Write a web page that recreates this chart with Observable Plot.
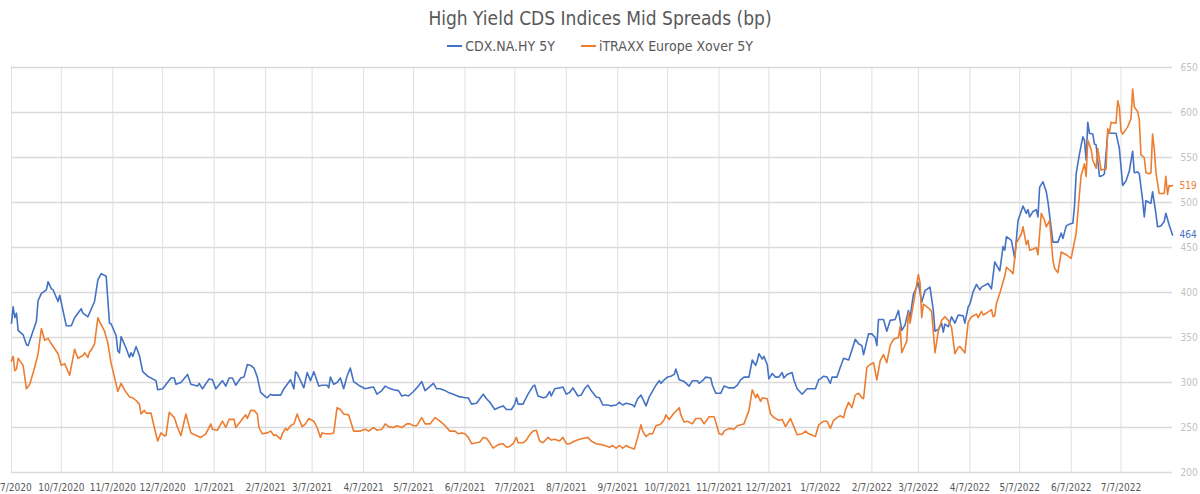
<!DOCTYPE html>
<html><head><meta charset="utf-8">
<script src="https://cdn.jsdelivr.net/npm/d3@7"></script>
<script src="https://cdn.jsdelivr.net/npm/@observablehq/plot@0.6"></script>
<style>
body{margin:0;background:#fff;font-family:"Liberation Sans Narrow","DejaVu Sans Condensed",sans-serif;}
#title{height:34px;line-height:36px;text-align:center;font-size:19px;color:#595959;}
#legend{height:24px;display:flex;justify-content:center;align-items:center;gap:26px;font-size:14px;color:#595959;}
.item{display:flex;align-items:center;gap:3px}
.sw{width:15px;height:2px;display:inline-block}
</style></head><body>
<div id="title">High Yield CDS Indices Mid Spreads (bp)</div>
<div id="legend"></div>
<div id="chart"></div>
<script>
const seriesNames = ["CDX.NA.HY 5Y", "iTRAXX Europe Xover 5Y"];
const seriesColors = ["#4472C4", "#ED7D31"];

const cdx = [
["2020-09-07",366],["2020-09-08",384],["2020-09-09",372],["2020-09-10",377],["2020-09-11",358],["2020-09-14",353],["2020-09-16",342],["2020-09-17",341],["2020-09-22",368],["2020-09-23",391],["2020-09-25",399],["2020-09-28",403],["2020-09-29",412],["2020-10-01",404],["2020-10-02",403],["2020-10-05",390],["2020-10-06",397],["2020-10-08",380],["2020-10-10",363],["2020-10-13",363],["2020-10-15",372],["2020-10-19",382],["2020-10-20",377],["2020-10-23",373],["2020-10-27",390],["2020-10-29",414],["2020-10-31",421],["2020-11-03",418],["2020-11-05",366],["2020-11-06",365],["2020-11-09",352],["2020-11-10",335],["2020-11-11",333],["2020-11-12",351],["2020-11-15",338],["2020-11-17",328],["2020-11-18",333],["2020-11-19",329],["2020-11-21",340],["2020-11-23",330],["2020-11-25",312],["2020-11-28",307],["2020-12-01",304],["2020-12-03",302],["2020-12-04",292],["2020-12-07",293],["2020-12-12",305],["2020-12-14",305],["2020-12-15",298],["2020-12-18",300],["2020-12-22",309],["2020-12-24",298],["2020-12-28",296],["2020-12-29",299],["2020-12-31",293],
["2021-01-04",304],["2021-01-06",303],["2021-01-08",293],["2021-01-12",302],["2021-01-14",296],["2021-01-16",305],["2021-01-18",305],["2021-01-20",297],["2021-01-23",305],["2021-01-25",306],["2021-01-27",320],["2021-01-29",319],["2021-01-31",316],["2021-02-02",306],["2021-02-04",289],["2021-02-07",284],["2021-02-08",283],["2021-02-10",287],["2021-02-11",286],["2021-02-16",286],["2021-02-18",293],["2021-02-20",298],["2021-02-22",303],["2021-02-24",293],["2021-02-25",312],["2021-02-26",310],["2021-02-28",302],["2021-03-02",294],["2021-03-04",311],["2021-03-06",302],["2021-03-08",312],["2021-03-09",307],["2021-03-11",296],["2021-03-13",297],["2021-03-16",297],["2021-03-17",294],["2021-03-18",306],["2021-03-20",298],["2021-03-22",300],["2021-03-24",305],["2021-03-26",293],["2021-03-28",307],["2021-03-30",316],["2021-04-01",301],["2021-04-04",297],["2021-04-08",293],["2021-04-10",294],["2021-04-13",295],["2021-04-15",287],["2021-04-18",291],["2021-04-20",296],["2021-04-22",294],["2021-04-25",292],["2021-04-28",291],["2021-04-30",285],["2021-05-02",286],["2021-05-04",285],["2021-05-07",290],["2021-05-09",294],["2021-05-12",301],["2021-05-14",291],["2021-05-16",294],["2021-05-19",299],["2021-05-21",293],["2021-05-23",293],["2021-05-26",291],["2021-05-28",289],["2021-05-31",287],["2021-06-04",284],["2021-06-05",284],["2021-06-07",283],["2021-06-09",283],["2021-06-11",276],["2021-06-14",277],["2021-06-16",282],
["2021-06-18",287],["2021-06-20",282],["2021-06-22",278],["2021-06-25",270],["2021-06-27",272],["2021-06-30",274],["2021-07-02",270],["2021-07-05",270],["2021-07-07",276],["2021-07-08",283],["2021-07-09",276],["2021-07-12",276],["2021-07-13",280],["2021-07-15",287],["2021-07-18",296],["2021-07-19",297],["2021-07-21",285],["2021-07-24",283],["2021-07-26",284],["2021-07-28",290],["2021-07-29",285],["2021-07-31",293],["2021-08-03",294],["2021-08-05",295],["2021-08-07",287],["2021-08-09",289],["2021-08-11",294],["2021-08-14",285],["2021-08-16",286],["2021-08-18",293],["2021-08-20",297],["2021-08-22",291],["2021-08-25",284],["2021-08-27",283],["2021-08-29",275],["2021-09-01",275],["2021-09-03",274],["2021-09-06",275],["2021-09-08",278],["2021-09-10",275],["2021-09-12",277],["2021-09-14",276],["2021-09-16",275],["2021-09-17",273],["2021-09-19",282],["2021-09-21",286],["2021-09-22",282],["2021-09-24",274],["2021-09-26",284],["2021-09-30",297],["2021-10-02",302],["2021-10-03",299],["2021-10-05",303],["2021-10-07",306],["2021-10-09",307],["2021-10-11",309],["2021-10-12",315],["2021-10-14",303],["2021-10-17",301],["2021-10-20",296],["2021-10-22",302],["2021-10-25",302],["2021-10-26",299],["2021-10-28",302],["2021-10-30",306],["2021-11-02",305],["2021-11-03",297],["2021-11-05",288],["2021-11-08",288],
["2021-11-10",296],["2021-11-13",294],["2021-11-16",294],["2021-11-18",297],["2021-11-20",303],["2021-11-22",306],["2021-11-25",306],["2021-11-27",325],["2021-11-29",319],["2021-11-30",324],["2021-12-01",332],["2021-12-03",326],["2021-12-04",329],["2021-12-06",320],["2021-12-07",304],["2021-12-09",310],["2021-12-11",306],["2021-12-13",306],["2021-12-15",311],["2021-12-16",305],["2021-12-18",309],["2021-12-21",311],["2021-12-22",303],["2021-12-24",293],["2021-12-27",287],["2021-12-30",293],
["2022-01-04",293],["2022-01-06",303],["2022-01-07",304],["2022-01-09",307],["2022-01-11",306],["2022-01-13",299],["2022-01-14",306],["2022-01-17",306],["2022-01-19",317],["2022-01-21",327],["2022-01-24",325],["2022-01-26",336],["2022-01-28",348],["2022-01-30",343],["2022-02-01",341],["2022-02-02",331],["2022-02-05",354],["2022-02-07",354],["2022-02-09",350],["2022-02-10",341],["2022-02-11",370],["2022-02-14",370],["2022-02-16",357],["2022-02-18",369],["2022-02-21",370],["2022-02-23",380],["2022-02-25",358],["2022-02-27",364],["2022-03-01",380],["2022-03-02",372],["2022-03-04",398],["2022-03-06",406],["2022-03-07",411],["2022-03-09",389],["2022-03-11",402],["2022-03-14",406],["2022-03-16",380],["2022-03-17",357],["2022-03-19",359],["2022-03-21",366],["2022-03-22",356],["2022-03-23",365],["2022-03-25",362],["2022-03-27",373],["2022-03-29",366],["2022-03-31",375],
["2022-04-03",374],["2022-04-04",366],["2022-04-06",384],["2022-04-07",387],["2022-04-09",401],["2022-04-11",409],["2022-04-13",403],["2022-04-14",406],["2022-04-18",410],["2022-04-20",404],["2022-04-22",434],["2022-04-25",424],["2022-04-27",451],["2022-04-28",447],["2022-04-29",462],["2022-05-02",458],["2022-05-04",438],["2022-05-06",480],["2022-05-09",496],["2022-05-11",488],["2022-05-12",492],["2022-05-13",484],["2022-05-15",490],["2022-05-17",492],["2022-05-18",484],["2022-05-19",517],["2022-05-21",523],["2022-05-23",512],["2022-05-24",501],["2022-05-27",456],["2022-05-30",456],["2022-06-01",466],["2022-06-02",460],["2022-06-04",474],["2022-06-06",476],["2022-06-08",477],["2022-06-09",496],["2022-06-10",532],["2022-06-12",554],["2022-06-14",573],["2022-06-15",569],["2022-06-16",547],["2022-06-17",589],["2022-06-18",577],["2022-06-20",576],["2022-06-21",565],["2022-06-22",564],["2022-06-24",529],["2022-06-26",530],["2022-06-27",532],["2022-06-29",577],["2022-07-03",577],["2022-07-04",577],["2022-07-06",560],["2022-07-08",519],["2022-07-10",524],["2022-07-12",535],["2022-07-14",557],["2022-07-15",533],["2022-07-17",534],["2022-07-18",532],["2022-07-20",503],["2022-07-21",484],["2022-07-22",502],["2022-07-24",500],["2022-07-25",499],["2022-07-26",512],["2022-07-28",488],["2022-07-29",473],["2022-07-31",474],["2022-08-02",479],["2022-08-03",488],["2022-08-05",475],["2022-08-07",464]
];

const xover = [
["2020-09-07",324],["2020-09-08",329],["2020-09-09",313],["2020-09-10",315],["2020-09-11",327],["2020-09-14",319],["2020-09-16",293],["2020-09-18",298],["2020-09-21",317],["2020-09-23",332],["2020-09-25",360],["2020-09-27",347],["2020-09-29",349],["2020-10-01",343],["2020-10-05",332],["2020-10-07",319],["2020-10-09",321],["2020-10-12",308],["2020-10-15",337],["2020-10-17",327],["2020-10-20",330],["2020-10-21",333],["2020-10-23",328],["2020-10-24",334],["2020-10-25",336],["2020-10-27",343],["2020-10-29",372],["2020-10-30",368],["2020-11-02",357],["2020-11-04",344],["2020-11-06",321],["2020-11-08",306],["2020-11-10",290],["2020-11-12",299],["2020-11-14",292],["2020-11-17",284],["2020-11-19",283],["2020-11-21",280],["2020-11-23",276],["2020-11-24",265],["2020-11-26",269],["2020-11-27",266],["2020-11-30",266],["2020-12-02",250],["2020-12-04",235],["2020-12-06",244],["2020-12-08",241],["2020-12-09",241],["2020-12-11",267],["2020-12-14",261],["2020-12-16",250],["2020-12-18",241],["2020-12-21",265],["2020-12-24",244],["2020-12-30",239],
["2021-01-02",243],["2021-01-05",254],["2021-01-06",248],["2021-01-09",247],["2021-01-12",257],["2021-01-14",250],["2021-01-16",259],["2021-01-19",259],["2021-01-20",250],["2021-01-23",257],["2021-01-25",262],["2021-01-26",264],["2021-01-27",260],["2021-01-29",269],["2021-01-31",269],["2021-02-02",265],["2021-02-03",250],["2021-02-05",243],["2021-02-08",244],["2021-02-10",246],["2021-02-12",241],["2021-02-13",242],["2021-02-16",237],["2021-02-17",243],["2021-02-19",249],["2021-02-20",247],["2021-02-22",252],["2021-02-24",254],["2021-02-26",265],["2021-02-27",260],["2021-03-01",251],["2021-03-03",254],["2021-03-05",260],["2021-03-08",257],["2021-03-10",250],["2021-03-12",239],["2021-03-13",244],["2021-03-15",243],["2021-03-18",243],["2021-03-20",244],["2021-03-22",272],["2021-03-24",270],["2021-03-26",265],["2021-03-29",264],["2021-04-01",246],["2021-04-05",246],["2021-04-08",248],["2021-04-10",246],["2021-04-13",250],["2021-04-15",247],["2021-04-18",248],["2021-04-20",254],["2021-04-22",251],["2021-04-25",250],["2021-04-27",252],["2021-04-30",250],["2021-05-03",254],["2021-05-05",254],["2021-05-07",252],["2021-05-09",252],["2021-05-12",261],["2021-05-14",254],["2021-05-17",254],["2021-05-20",261],["2021-05-23",257],["2021-05-26",252],["2021-05-29",246],["2021-06-01",246],["2021-06-03",243],["2021-06-05",244],["2021-06-07",243],["2021-06-09",239],["2021-06-11",232],["2021-06-14",233],["2021-06-16",234],
["2021-06-18",239],["2021-06-20",238],["2021-06-22",233],["2021-06-24",227],["2021-06-27",231],["2021-06-30",232],["2021-07-02",228],["2021-07-04",229],["2021-07-06",232],["2021-07-08",239],["2021-07-09",233],["2021-07-12",233],["2021-07-14",236],["2021-07-16",242],["2021-07-18",246],["2021-07-20",247],["2021-07-22",235],["2021-07-24",233],["2021-07-26",237],["2021-07-27",239],["2021-07-29",236],["2021-07-31",237],["2021-08-03",235],["2021-08-05",239],["2021-08-07",232],["2021-08-09",232],["2021-08-12",235],["2021-08-15",237],["2021-08-20",239],["2021-08-22",235],["2021-08-25",232],["2021-08-28",231],["2021-08-30",230],["2021-09-02",228],["2021-09-04",230],["2021-09-06",227],["2021-09-08",230],["2021-09-10",227],["2021-09-12",230],["2021-09-14",228],["2021-09-17",226],["2021-09-19",239],["2021-09-21",253],["2021-09-22",246],["2021-09-24",240],["2021-09-26",243],["2021-09-28",243],["2021-09-30",252],["2021-10-03",254],["2021-10-05",259],["2021-10-06",264],["2021-10-08",259],["2021-10-10",264],["2021-10-12",268],["2021-10-14",272],["2021-10-15",264],["2021-10-17",256],["2021-10-19",257],["2021-10-22",254],["2021-10-24",260],["2021-10-27",260],["2021-10-29",254],["2021-11-01",262],["2021-11-04",262],["2021-11-05",256],["2021-11-07",243],["2021-11-09",242],
["2021-11-10",246],["2021-11-13",249],["2021-11-16",248],["2021-11-18",252],["2021-11-20",253],["2021-11-22",254],["2021-11-25",269],["2021-11-27",292],["2021-11-29",283],["2021-11-30",287],["2021-12-02",279],["2021-12-03",283],["2021-12-06",282],["2021-12-08",265],["2021-12-10",261],["2021-12-13",258],["2021-12-15",259],["2021-12-17",251],["2021-12-20",260],["2021-12-22",251],["2021-12-24",242],["2021-12-27",243],["2021-12-29",246],["2021-12-31",243],
["2022-01-04",240],["2022-01-06",253],["2022-01-09",257],["2022-01-11",257],["2022-01-13",249],["2022-01-15",258],["2022-01-17",261],["2022-01-19",263],["2022-01-21",261],["2022-01-22",269],["2022-01-24",278],["2022-01-26",272],["2022-01-28",286],["2022-01-30",288],["2022-02-01",283],["2022-02-02",282],["2022-02-04",317],["2022-02-06",320],["2022-02-08",322],["2022-02-10",303],["2022-02-12",324],["2022-02-14",331],["2022-02-16",322],["2022-02-18",341],["2022-02-20",348],["2022-02-23",350],["2022-02-24",362],["2022-02-25",333],["2022-02-28",346],["2022-03-01",378],["2022-03-02",366],["2022-03-04",387],["2022-03-06",409],["2022-03-07",420],["2022-03-08",411],["2022-03-09",372],["2022-03-10",387],["2022-03-13",383],["2022-03-15",379],["2022-03-17",333],["2022-03-19",357],["2022-03-21",369],["2022-03-23",373],["2022-03-25",369],["2022-03-27",361],["2022-03-29",332],["2022-03-31",339],
["2022-04-01",340],["2022-04-04",333],["2022-04-06",367],["2022-04-08",373],["2022-04-11",376],["2022-04-12",372],["2022-04-14",379],["2022-04-15",375],["2022-04-17",377],["2022-04-20",381],["2022-04-21",373],["2022-04-22",374],["2022-04-23",388],["2022-04-25",399],["2022-04-27",412],["2022-04-28",418],["2022-04-29",428],["2022-05-01",425],["2022-05-03",421],["2022-05-05",455],["2022-05-08",465],["2022-05-09",473],["2022-05-11",453],["2022-05-12",458],["2022-05-13",447],["2022-05-15",448],["2022-05-17",450],["2022-05-18",442],["2022-05-20",488],["2022-05-22",480],["2022-05-23",473],["2022-05-25",480],["2022-05-27",436],["2022-05-28",427],["2022-05-30",422],["2022-06-01",445],["2022-06-04",442],["2022-06-07",438],["2022-06-10",466],["2022-06-12",510],["2022-06-13",530],["2022-06-15",543],["2022-06-16",529],["2022-06-17",569],["2022-06-19",559],["2022-06-20",547],["2022-06-22",538],["2022-06-23",560],["2022-06-25",536],["2022-06-27",537],["2022-06-28",537],["2022-06-29",582],["2022-06-30",577],["2022-07-01",589],["2022-07-04",588],["2022-07-05",613],["2022-07-06",606],["2022-07-07",579],["2022-07-08",576],["2022-07-11",584],["2022-07-13",593],["2022-07-14",626],["2022-07-15",606],["2022-07-17",601],["2022-07-18",592],["2022-07-19",553],["2022-07-21",550],["2022-07-22",533],["2022-07-24",532],["2022-07-25",533],["2022-07-26",576],["2022-07-27",560],["2022-07-28",534],["2022-07-30",510],["2022-08-02",510],["2022-08-03",529],["2022-08-04",509],["2022-08-05",519],["2022-08-06",518],["2022-08-07",519]
];

const xTickLabels = ["2020-09-07","2020-10-07","2020-11-07","2020-12-07","2021-01-07","2021-02-07","2021-03-07","2021-04-07","2021-05-07","2021-06-07","2021-07-07","2021-08-07","2021-09-07","2021-10-07","2021-11-07","2021-12-07","2022-01-07","2022-02-07","2022-03-07","2022-04-07","2022-05-07","2022-06-07","2022-07-07"];
const yTickValues = [200, 250, 300, 350, 400, 450, 500, 550, 600, 650];
const xDomain = ["2020-09-07", "2022-08-07"];

// legend
const legend = document.getElementById("legend");
seriesNames.forEach((n, i) => {
  const it = document.createElement("div");
  it.className = "item";
  it.innerHTML = `<span class="sw" style="background:${seriesColors[i]}"></span><span>${n}</span>`;
  legend.appendChild(it);
});

const toRows = (arr, s) => arr.map(([d, v]) => ({date: new Date(d + "T00:00:00Z"), value: v, series: s}));
const rows = [toRows(cdx, seriesNames[0]), toRows(xover, seriesNames[1])];
const lastPts = rows.map(r => r[r.length - 1]);
const xTicks = xTickLabels.map(d => new Date(d + "T00:00:00Z"));
const fmt = d3.utcFormat("%-m/%-d/%Y");

const chart = Plot.plot({
  width: 1200,
  height: 436,
  marginLeft: 11,
  marginRight: 28,
  marginTop: 9,
  marginBottom: 22,
  style: {fontFamily: '"Liberation Sans Narrow","DejaVu Sans Condensed",sans-serif', fontSize: "10px", color: "#595959", background: "white", overflow: "visible"},
  x: {type: "utc", domain: xDomain.map(d => new Date(d + "T00:00:00Z")), ticks: xTicks, tickFormat: fmt, tickSize: 0, tickPadding: 11, label: null},
  y: {domain: [200, 650], axis: "right", ticks: yTickValues, tickSize: 0, tickPadding: 8, label: null},
  marks: [
    Plot.ruleX(xTicks, {stroke: "#e0e0e0", strokeWidth: 1}),
    Plot.ruleY(yTickValues, {stroke: "#d9d9d9", strokeWidth: 1.3}),
    Plot.line(rows[0], {x: "date", y: "value", stroke: seriesColors[0], strokeWidth: 1.6}),
    Plot.line(rows[1], {x: "date", y: "value", stroke: seriesColors[1], strokeWidth: 1.6}),
    Plot.text([lastPts[0]], {x: "date", y: "value", text: d => String(d.value), fill: seriesColors[0], dx: 7, textAnchor: "start", fontSize: 10}),
    Plot.text([lastPts[1]], {x: "date", y: "value", text: d => String(d.value), fill: seriesColors[1], dx: 7, textAnchor: "start", fontSize: 10})
  ]
});
chart.querySelectorAll('g[aria-label^="y-axis"]').forEach(g => { g.style.color = "#bfbfbf"; g.setAttribute("fill", "#bfbfbf"); });
document.getElementById("chart").appendChild(chart);
</script>
</body></html>
